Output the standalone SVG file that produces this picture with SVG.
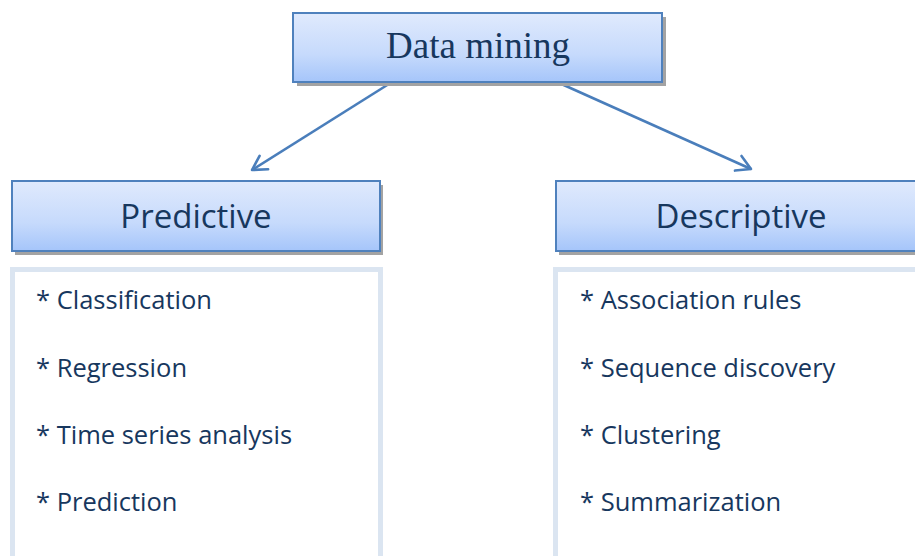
<svg xmlns="http://www.w3.org/2000/svg" width="915" height="556" viewBox="0 0 915 556">
<defs>
<linearGradient id="g" x1="0" y1="0" x2="0" y2="1">
<stop offset="0" stop-color="#e0eafd"/>
<stop offset="0.6" stop-color="#c6dafc"/>
<stop offset="1" stop-color="#a5c5fa"/>
</linearGradient>
<marker id="ah" viewBox="0 0 20 20" refX="17" refY="10" markerWidth="20" markerHeight="20" markerUnits="userSpaceOnUse" orient="auto">
<path d="M3,2 L17,10 L3,18" fill="none" stroke="#4a7ebb" stroke-width="2.6" stroke-linecap="round" stroke-linejoin="round"/>
</marker>
<style>
.box{fill:url(#g);stroke:#4f81bd;stroke-width:2}
.sh{fill:#a3a3a3}
.list{fill:#fff;stroke:#dbe5f1;stroke-width:5}
.t{fill:#17375e;font-family:"Open Sans","Liberation Sans",sans-serif}
.item{font-size:25.5px}
.hd{font-size:33px;text-anchor:middle}
.conn{stroke:#4a7ebb;stroke-width:2.6;fill:none;marker-end:url(#ah)}
</style>
</defs>
<rect width="915" height="556" fill="#fff"/>
<g id="connectors">
<line class="conn" x1="392" y1="82" x2="252" y2="170"/>
<line class="conn" x1="557" y1="82" x2="751" y2="169"/>
</g>
<g id="data-mining">
<rect class="sh" x="297" y="17" width="369" height="69"/>
<rect class="box" x="293" y="13" width="369" height="69"/>
<text x="478" y="58" text-anchor="middle" font-family="'Liberation Serif','Times New Roman',serif" font-size="37" fill="#17375e">Data mining</text>
</g>
<g id="predictive">
<rect class="sh" x="15" y="185" width="368" height="70"/>
<rect class="box" x="12" y="181" width="368" height="70"/>
<text class="t hd" x="196" y="228">Predictive</text>
</g>
<g id="descriptive">
<rect class="sh" x="559" y="185" width="368" height="70"/>
<rect class="box" x="556" y="181" width="368" height="70"/>
<text class="t hd" x="741" y="228">Descriptive</text>
</g>
<g id="predictive-list">
<rect class="list" x="12.5" y="269.5" width="368" height="300"/>
<text class="t item" x="36" y="309">* Classification</text>
<text class="t item" x="36" y="377">* Regression</text>
<text class="t item" x="36" y="444">* Time series analysis</text>
<text class="t item" x="36" y="511">* Prediction</text>
</g>
<g id="descriptive-list">
<rect class="list" x="555.5" y="269.5" width="368" height="300"/>
<text class="t item" x="580" y="309">* Association rules</text>
<text class="t item" x="580" y="377">* Sequence discovery</text>
<text class="t item" x="580" y="444">* Clustering</text>
<text class="t item" x="580" y="511">* Summarization</text>
</g>
</svg>
